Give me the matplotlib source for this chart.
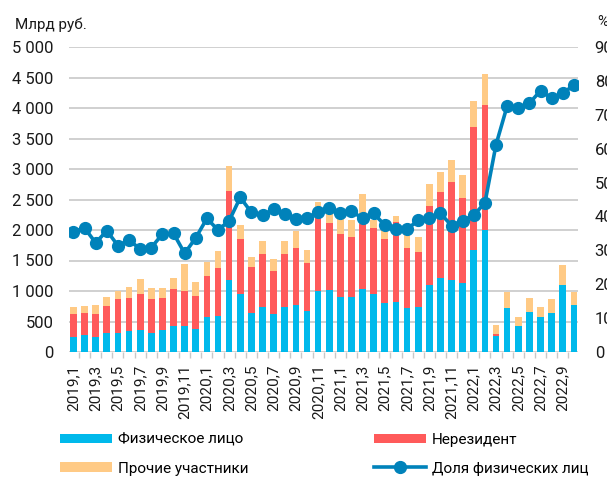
import numpy as np
import matplotlib
matplotlib.use('Agg')
import matplotlib.pyplot as plt
from matplotlib.ticker import FuncFormatter, FixedLocator

plt.rcParams['font.family'] = ['Roboto', 'DejaVu Sans']

# месяцы 2019.1 - 2022.10
periodos = [f"{a},{m}" for a in range(2019, 2023) for m in range(1, 13)][:46]

# млрд руб.
fiz_lico = [253, 275, 242, 313, 313, 340, 362, 318, 362, 428, 423, 384,
            576, 593, 1175, 950, 637, 736, 631, 736, 769, 670,
            1000, 1023, 907, 896, 1038, 951, 798, 815, 716, 738, 1098, 1208,
            1186, 1126, 1672, 2000,
            265, 727, 426, 658, 579, 645, 1095, 778]
nerezident = [373, 362, 389, 439, 549, 538, 582, 549, 522, 599, 582, 538,
              665, 785, 1466, 900, 757, 867, 692, 867, 938, 789,
              1371, 1096, 1033, 994, 1062, 1086, 1059, 1315, 983, 907, 1300, 1420,
              1601, 1398, 2022, 2052,
              30, 0, 0, 0, 0, 0, 0, 0]
prochie = [104, 115, 132, 143, 143, 182, 247, 176, 170, 192, 433, 231,
           236, 285, 411, 225, 171, 214, 198, 209, 269, 221,
           82, 141, 260, 273, 490, 120, 137, 99, 241, 235, 359, 322,
           361, 378, 426, 500,
           145, 262, 153, 234, 164, 218, 334, 200]
# %
dolya_fiz = [35.5, 36.6, 32.2, 35.8, 31.4, 33.0, 30.4, 30.8, 34.8, 35.0, 29.1, 33.7,
             39.4, 36.0, 38.7, 45.6, 41.2, 40.4, 42.1, 40.7, 39.2, 39.6,
             41.3, 42.4, 41.1, 41.6, 39.4, 40.9, 37.4, 36.2, 36.2, 38.9, 39.4, 40.9,
             37.3, 38.7, 40.4, 44.0,
             61.2, 72.6, 71.9, 73.4, 77.1, 74.9, 76.3, 78.8]

AZUL = '#00b9eb'
ROJO = '#ff5a5a'
NARANJA = '#ffca85'
LINEA = '#0082ba'
GRIS = '#c8c8c8'

fig = plt.figure(figsize=(6.07, 4.78), dpi=100)
ax = fig.add_axes([69 / 607, 1 - 352 / 478, 509 / 607, 305 / 478])

x = np.arange(len(periodos))
f = np.array(fiz_lico)
n = np.array(nerezident)
p = np.array(prochie)
b1 = ax.bar(x, f, width=0.6, color=AZUL, zorder=2)
b2 = ax.bar(x, n, width=0.6, bottom=f, color=ROJO, zorder=2)
b3 = ax.bar(x, p, width=0.6, bottom=f + n, color=NARANJA, zorder=2)

ax.set_xlim(-0.4, len(x) - 0.63)
ax.set_ylim(0, 5000)
ax.set_yticks(np.arange(0, 5001, 500))
ax.yaxis.set_major_formatter(FuncFormatter(lambda v, _: f"{int(v):,}".replace(',', ' ')))
ax.grid(axis='y', color=GRIS, lw=1.2, zorder=0)
ax.set_axisbelow(True)
for s in ax.spines.values():
    s.set_visible(False)
ax.tick_params(axis='y', length=0, pad=11, labelsize=12, colors='#1a1a1a')

ax.set_xticks(x[::2])
ax.set_xticklabels(periodos[::2], rotation=90, fontsize=11)
ax.tick_params(axis='x', which='major', length=0, pad=9, colors='#1a1a1a')
ax.xaxis.set_minor_locator(FixedLocator(x - 0.5))
ax.tick_params(axis='x', which='minor', length=4, width=1, color=GRIS)

ax2 = ax.twinx()
ln, = ax2.plot(x, dolya_fiz, color=LINEA, lw=2.6, marker='o', ms=8.5, zorder=3)
ax2.set_ylim(0, 90)
ax2.set_yticks(np.arange(0, 91, 10))
for s in ax2.spines.values():
    s.set_visible(False)
ax2.tick_params(axis='y', length=0, pad=12, labelsize=12, colors='#1a1a1a')

fig.text(15 / 607, 1 - 25 / 478, 'Млрд руб.', fontsize=11, va='center', ha='left', color='#1a1a1a')
fig.text(597 / 607, 1 - 22 / 478, '%', fontsize=11, va='center', ha='left', color='#1a1a1a')

fig.legend([b1, b3, b2, ln],
           ['Физическое лицо', 'Прочие участники', 'Нерезидент', 'Доля физических лиц'],
           ncol=2, loc='upper left', bbox_to_anchor=(60 / 607, 1 - 433 / 478),
           frameon=False, fontsize=11, handlelength=3.4, handleheight=0.6,
           handletextpad=0.4, columnspacing=8.2, labelspacing=0.95,
           borderpad=0, borderaxespad=0, numpoints=1)

fig.savefig('out.png', dpi=100)
